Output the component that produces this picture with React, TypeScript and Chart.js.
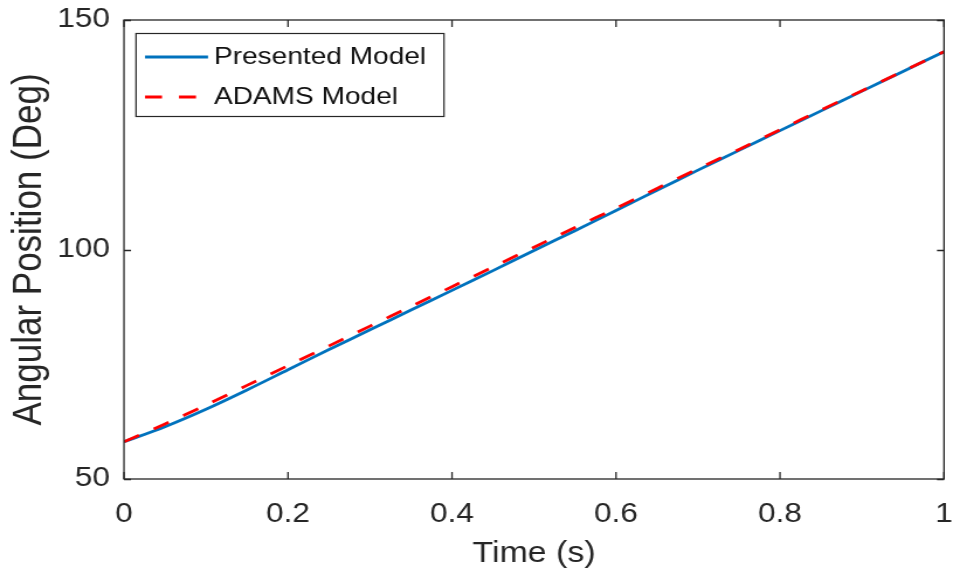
import React, { useEffect, useRef } from "react";
import { Chart, registerables } from "chart.js";

Chart.register(...registerables);

const timeValues = [0, 0.05, 0.1, 0.15, 0.2, 0.25, 0.3, 0.35, 0.4, 0.45, 0.5, 0.55, 0.6, 0.65, 0.7, 0.75, 0.8, 0.85, 0.9, 0.95, 1.0];
const presentedModel = [58.1, 61.4, 65.2, 69.4, 73.8, 78.2, 82.5, 86.8, 91.1, 95.4, 99.8, 104.1, 108.5, 112.9, 117.3, 121.6, 125.9, 130.2, 134.5, 138.8, 143.1];
const adamsModel = [58.1, 62.0, 66.1, 70.4, 74.7, 79.0, 83.3, 87.6, 91.9, 96.2, 100.5, 104.8, 109.0, 113.3, 117.6, 121.8, 126.1, 130.4, 134.6, 138.85, 143.1];
const xTicks = [0, 0.2, 0.4, 0.6, 0.8, 1];
const yTicks = [50, 100, 150];
const seriesNames = ["Presented Model", "ADAMS Model"];

const FONT = "'Liberation Sans', Arial, Helvetica, sans-serif";
const TEXT = "#262626";
// The reference figure is horizontally stretched; draw on a narrower canvas and stretch it.
const OUT_W = 953;
const OUT_H = 581;
const SX = 1.17;
const IN_W = Math.round(OUT_W / SX);
const sx = (v: number) => v / (OUT_W / IN_W);

const framePlugin = {
  id: "frame",
  afterDraw(chart: any) {
    const { ctx, chartArea } = chart;
    const { left, right, top, bottom } = chartArea;
    const xs = chart.scales.x;
    const ys = chart.scales.y;
    ctx.save();
    ctx.strokeStyle = TEXT;
    ctx.lineWidth = 1.3;
    ctx.strokeRect(left, top, right - left, bottom - top);
    const tl = 7;
    ctx.beginPath();
    xTicks.forEach((v) => {
      const px = xs.getPixelForValue(v);
      ctx.moveTo(px, bottom);
      ctx.lineTo(px, bottom - tl);
      ctx.moveTo(px, top);
      ctx.lineTo(px, top + tl);
    });
    yTicks.forEach((v) => {
      const py = Math.round(ys.getPixelForValue(v)) + 0.5;
      ctx.moveTo(left, py);
      ctx.lineTo(left + sx(tl), py);
      ctx.moveTo(right, py);
      ctx.lineTo(right - sx(tl), py);
    });
    ctx.stroke();

    // legend
    const lx = sx(136), ly = 33, lw = sx(308), lh = 83;
    ctx.fillStyle = "#ffffff";
    ctx.fillRect(lx, ly, lw, lh);
    ctx.strokeStyle = TEXT;
    ctx.lineWidth = 1.2;
    ctx.strokeRect(lx, ly + 0.5, lw, lh);
    ctx.font = `24px ${FONT}`;
    ctx.textBaseline = "middle";
    ctx.textAlign = "left";
    const rows = [
      { y: 57, color: "#0072BD", dash: [] as number[] },
      { y: 97, color: "#FF0000", dash: [sx(17), sx(17)] },
    ];
    rows.forEach((r, i) => {
      ctx.save();
      ctx.strokeStyle = r.color;
      ctx.lineWidth = 3;
      ctx.setLineDash(r.dash);
      ctx.beginPath();
      ctx.moveTo(sx(145), r.y);
      ctx.lineTo(sx(208), r.y);
      ctx.stroke();
      ctx.restore();
      ctx.fillStyle = "#111111";
      ctx.fillText(seriesNames[i], sx(214), r.y);
    });
    ctx.restore();
  },
};

export default function App() {
  const ref = useRef<HTMLCanvasElement | null>(null);
  useEffect(() => {
    document.body.style.margin = "0";
    const canvas = ref.current;
    if (!canvas) return;
    const chart = new Chart(canvas, {
      type: "line",
      data: {
        datasets: [
          {
            label: seriesNames[0],
            data: timeValues.map((t, i) => ({ x: t, y: presentedModel[i] })),
            borderColor: "#0072BD",
            borderWidth: 2.8,
            pointRadius: 0,
            tension: 0.3,
            order: 1,
          },
          {
            label: seriesNames[1],
            data: timeValues.map((t, i) => ({ x: t, y: adamsModel[i] })),
            borderColor: "#FF0000",
            borderWidth: 2.8,
            borderDash: [14.5, 14],
            pointRadius: 0,
            tension: 0.3,
            order: 0,
          },
        ],
      },
      options: {
        animation: false,
        responsive: false,
        maintainAspectRatio: false,
        devicePixelRatio: 1,
        layout: { padding: { top: 20, right: IN_W - sx(944), left: 0, bottom: 0 } },
        plugins: { legend: { display: false }, tooltip: { enabled: false } },
        scales: {
          x: {
            type: "linear",
            min: 0,
            max: 1,
            afterBuildTicks: (s: any) => {
              s.ticks = xTicks.map((v) => ({ value: v }));
            },
            afterFit: (s: any) => {
              s.height = OUT_H - 479;
              s.paddingLeft = 0;
              s.paddingRight = 0;
            },
            grid: { display: false, drawTicks: false },
            border: { display: false },
            ticks: {
              color: TEXT,
              font: { family: FONT, size: 27 },
              padding: 19,
              maxRotation: 0,
              autoSkip: false,
              callback: (v: any) => String(v),
            },
            title: {
              display: true,
              text: "Time (s)",
              color: TEXT,
              font: { family: FONT, size: 29 },
              padding: { top: 0, bottom: 10 },
            },
          },
          y: {
            type: "linear",
            min: 50,
            max: 150,
            afterBuildTicks: (s: any) => {
              s.ticks = yTicks.map((v) => ({ value: v }));
            },
            afterFit: (s: any) => {
              s.width = sx(124);
              s.paddingTop = 0;
              s.paddingBottom = 0;
            },
            grid: { display: false, drawTicks: false },
            border: { display: false },
            ticks: {
              color: TEXT,
              font: { family: FONT, size: 27 },
              padding: sx(14),
              autoSkip: false,
              callback: (v: any) => String(v),
            },
            title: {
              display: true,
              text: "Angular Position (Deg)",
              color: TEXT,
              font: { family: FONT, size: 35 },
              padding: { top: 4, bottom: 0 },
            },
          },
        },
      },
      plugins: [framePlugin],
    });
    return () => chart.destroy();
  }, []);
  return (
    <div style={{ width: OUT_W, height: OUT_H, background: "#fff" }}>
      <canvas
        ref={ref}
        width={IN_W}
        height={OUT_H}
        style={{ display: "block", width: OUT_W + "px", height: OUT_H + "px" }}
      />
    </div>
  );
}
